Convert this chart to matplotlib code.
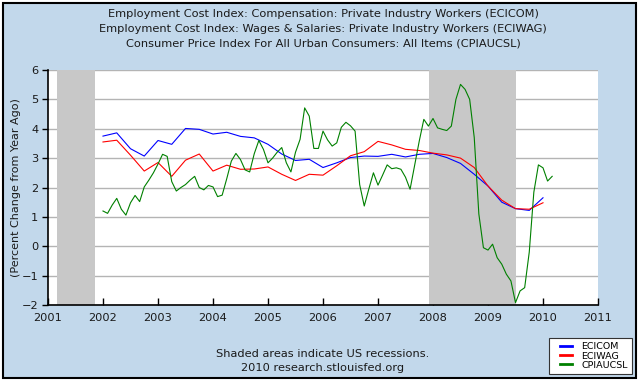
import matplotlib
matplotlib.use("Agg")
import matplotlib.pyplot as plt
import numpy as np
from matplotlib.legend_handler import HandlerLine2D
from matplotlib.lines import Line2D
from matplotlib.patches import Rectangle

# ── Data ───────────────────────────────────────────────────────────────────
# quarterly, 2002Q1 .. 2010Q1 (percent change from year ago)
ECICOM = [3.75, 3.86, 3.32, 3.07, 3.60, 3.47, 4.01, 3.98,
          3.82, 3.88, 3.74, 3.69, 3.47, 3.14, 2.92, 2.96,
          2.68, 2.84, 3.02, 3.07, 3.06, 3.13, 3.04, 3.13,
          3.16, 3.02, 2.82, 2.45, 2.05, 1.50, 1.28, 1.22,
          1.65]
ECIWAG = [3.55, 3.61, 3.10, 2.56, 2.85, 2.38, 2.93, 3.14,
          2.56, 2.76, 2.62, 2.63, 2.70, 2.45, 2.24, 2.45,
          2.42, 2.74, 3.08, 3.22, 3.57, 3.45, 3.30, 3.26,
          3.17, 3.11, 3.00, 2.68, 2.05, 1.57, 1.28, 1.26,
          1.48]
# monthly, Jan 2002 .. Mar 2010
CPIAUCSL = [
    1.20, 1.12, 1.40, 1.63, 1.26, 1.06, 1.48, 1.73, 1.52, 2.02, 2.25, 2.50,  # 2002
    2.80, 3.13, 3.06, 2.20, 1.88, 2.00, 2.10, 2.25, 2.38, 2.00, 1.92, 2.07,  # 2003
    2.02, 1.69, 1.74, 2.30, 2.90, 3.16, 2.95, 2.60, 2.53, 3.15, 3.60, 3.30,  # 2004
    2.84, 3.00, 3.20, 3.36, 2.84, 2.53, 3.20, 3.64, 4.71, 4.43, 3.33, 3.33,  # 2005
    3.92, 3.62, 3.41, 3.52, 4.05, 4.22, 4.10, 3.92, 2.10, 1.37, 1.95, 2.50,  # 2006
    2.08, 2.42, 2.77, 2.64, 2.67, 2.62, 2.35, 1.94, 2.76, 3.58, 4.32, 4.09,  # 2007
    4.35, 4.03, 3.98, 3.94, 4.09, 5.00, 5.51, 5.34, 5.00, 3.70, 1.10, -0.05,  # 2008
    -0.13, 0.07, -0.39, -0.61, -0.95, -1.18, -1.92, -1.52, -1.41, -0.20, 1.84, 2.77,  # 2009
    2.67, 2.22, 2.38,  # 2010
]
RECESSIONS = [(2001.17, 2001.85), (2007.92, 2009.5)]
YEARS = list(range(2001, 2012))

TITLE = ("Employment Cost Index: Compensation: Private Industry Workers (ECICOM)\n"
         "Employment Cost Index: Wages & Salaries: Private Industry Workers (ECIWAG)\n"
         "Consumer Price Index For All Urban Consumers: All Items (CPIAUCSL)")

BG = "#C2D8EB"
TXT = "#1a1a1a"

plt.rcParams.update({"font.family": "DejaVu Sans", "font.size": 8.2})

q_dates = 2002 + np.arange(len(ECICOM)) * 0.25
m_dates = 2002 + np.arange(len(CPIAUCSL)) / 12.0

fig = plt.figure(figsize=(6.38, 3.86), dpi=100)
fig.patch.set_facecolor("white")
W, H = 638.0, 386.0
fig.patches.append(Rectangle((3 / W, 1 - 378 / H), 633 / W, 375 / H,
                             transform=fig.transFigure, facecolor=BG,
                             edgecolor="black", linewidth=1.5, zorder=-10))

ax = fig.add_axes([48 / W, 1 - 305 / H, 550 / W, 235 / H])
ax.set_facecolor("white")

for start, end in RECESSIONS:
    ax.axvspan(start, end, color="#C8C8C8", lw=0, zorder=1)

ax.plot(q_dates, ECICOM, color="#0000FF", lw=0.8, label="ECICOM", zorder=3)
ax.plot(q_dates, ECIWAG, color="#FF0000", lw=0.8, label="ECIWAG", zorder=3)
ax.plot(m_dates, CPIAUCSL, color="#008000", lw=0.8, label="CPIAUCSL", zorder=3)

ax.set_xlim(2001, 2011)
ax.set_ylim(-2, 6)
ax.set_xticks(YEARS)
ax.set_yticks(range(-2, 7))
ax.set_axisbelow(True)
ax.yaxis.grid(True, color="#B4B4B4", lw=1.0)
for s in ("top", "right"):
    ax.spines[s].set_visible(False)
for s in ("left", "bottom"):
    ax.spines[s].set_linewidth(1.2)
ax.tick_params(axis="x", direction="in", length=5, width=1, colors="black",
               labelcolor=TXT, pad=6)
ax.tick_params(axis="y", direction="out", length=4, width=1, colors="black",
               labelcolor=TXT, pad=3)
ax.set_ylabel("(Percent Change from Year Ago)", color=TXT, fontsize=8)
ax.yaxis.set_label_coords(-27 / 550, 0.5)

fig.text(323 / W, 1 - 29 / H, TITLE, ha="center", va="center",
         color=TXT, linespacing=1.6)
fig.text(323 / W, 1 - 361 / H,
         "Shaded areas indicate US recessions.\n2010 research.stlouisfed.org",
         ha="center", va="center", color=TXT, linespacing=1.5)

# short thick legend lines with room on the left, like the FRED box
handler = HandlerLine2D(xpad=0.8)
leg = fig.legend(loc="lower right", bbox_to_anchor=(632 / W, 1 - 374 / H),
                 fontsize=6.8, frameon=True, fancybox=False, framealpha=1,
                 handlelength=2.0, handletextpad=1.0, labelspacing=0.02,
                 borderpad=0.45, borderaxespad=0,
                 handler_map={Line2D: handler})
leg.get_frame().set_edgecolor("#333333")
leg.get_frame().set_linewidth(0.8)
leg.get_frame().set_facecolor("white")
for line in leg.get_lines():
    line.set_linewidth(2)

fig.savefig("out.png", dpi=100, facecolor=fig.get_facecolor())
